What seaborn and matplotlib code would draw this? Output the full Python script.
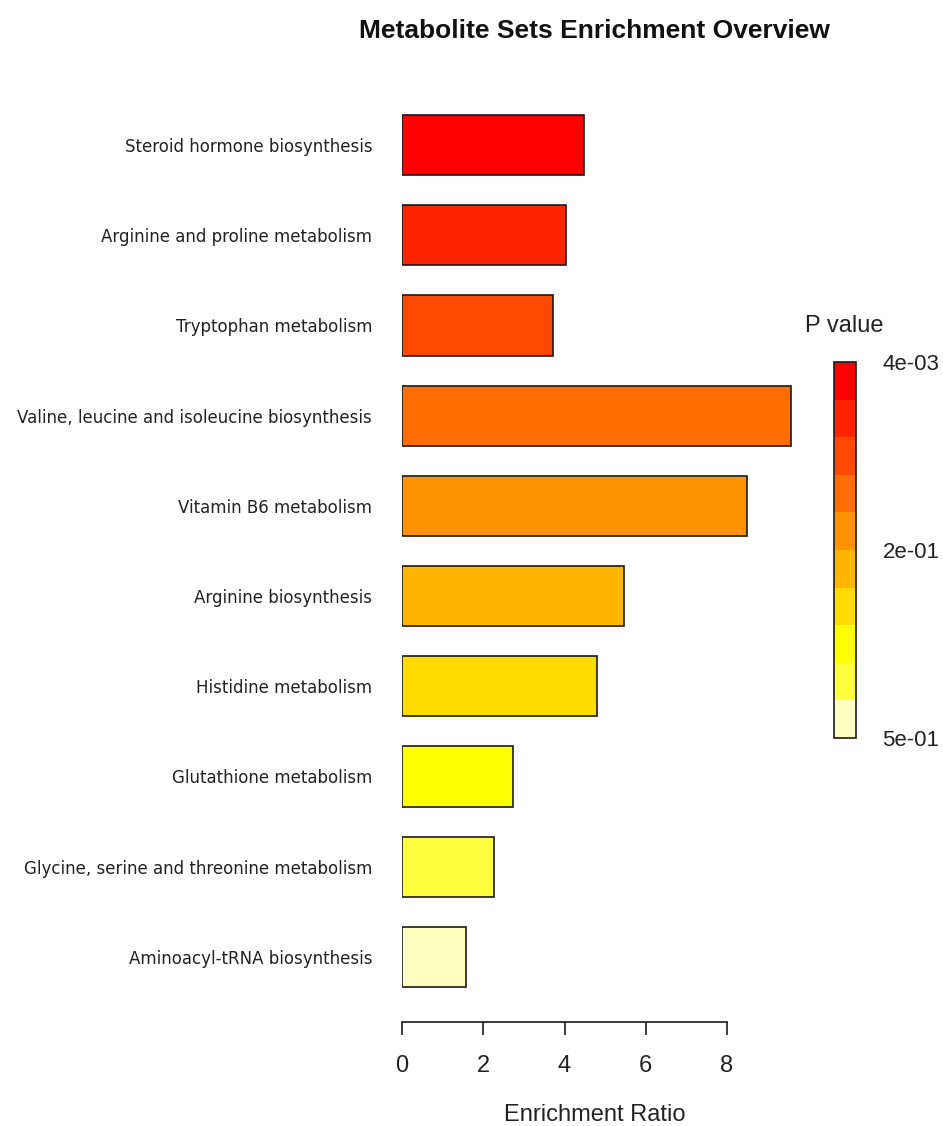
import numpy as np
import pandas as pd
import matplotlib
matplotlib.use("Agg")
import matplotlib.pyplot as plt
from matplotlib.colors import ListedColormap, BoundaryNorm
from matplotlib.cm import ScalarMappable
import seaborn as sns

# Pathway enrichment results
pathways = [
    "Steroid hormone biosynthesis",
    "Arginine and proline metabolism",
    "Tryptophan metabolism",
    "Valine, leucine and isoleucine biosynthesis",
    "Vitamin B6 metabolism",
    "Arginine biosynthesis",
    "Histidine metabolism",
    "Glutathione metabolism",
    "Glycine, serine and threonine metabolism",
    "Aminoacyl-tRNA biosynthesis",
]
enrichment_ratio = [4.48, 4.04, 3.72, 9.58, 8.49, 5.46, 4.80, 2.73, 2.26, 1.58]
p_values = [0.0042, 0.018, 0.041, 0.075, 0.16, 0.21, 0.27, 0.33, 0.41, 0.50]
x_ticks = [0, 2, 4, 6, 8]

# heat colour ramp, most significant first
heat_colors = ["#FF0000", "#FF2400", "#FF4900", "#FF6D00", "#FF9200",
               "#FFB600", "#FFDB00", "#FFFF00", "#FFFF40", "#FFFFBF"]

df = pd.DataFrame({"pathway": pathways, "ratio": enrichment_ratio, "p": p_values})
rank = df["p"].rank(method="first").astype(int) - 1
palette = {name: heat_colors[r] for name, r in zip(df["pathway"], rank)}

W, H = 943, 1126
fig = plt.figure(figsize=(W / 100, H / 100), dpi=100)
sns.set_style("white")
plt.rcParams["font.family"] = ["Liberation Sans", "DejaVu Sans"]

px = 40.625  # pixels per ratio unit
x_max = 10.0
ax_left, ax_top, ax_bottom = 402, 100, 1002
ax = fig.add_axes([ax_left / W, 1 - ax_bottom / H, x_max * px / W, (ax_bottom - ax_top) / H])

sns.barplot(data=df, x="ratio", y="pathway", hue="pathway", palette=palette,
            orient="h", width=0.667, edgecolor="#1a1a1a", linewidth=1.2,
            saturation=1, dodge=False, legend=False, ax=ax)

ax.set_xlim(0, x_max)
ax.set_ylim(len(pathways) - 0.5, -0.5)
for s in ["top", "right", "left"]:
    ax.spines[s].set_visible(False)
ax.spines["bottom"].set_position(("outward", 14.4))
ax.spines["bottom"].set_bounds(x_ticks[0], x_ticks[-1])
ax.spines["bottom"].set_linewidth(1.2)
ax.spines["bottom"].set_color("#1a1a1a")
ax.set_xticks(x_ticks)
ax.tick_params(axis="x", bottom=True, direction="out", length=9.5, width=1.2,
               color="#1a1a1a", pad=14.5, labelsize=17, labelcolor="#222222")
ax.tick_params(axis="y", left=False, length=0, pad=21.5)
for lab in ax.get_yticklabels():
    lab.set_fontfamily("DejaVu Sans")
    lab.set_fontsize(12)
    lab.set_color("#222222")
ax.set_xlabel("")
ax.set_ylabel("")

fig.text(595 / W, 1 - 1115 / H, "Enrichment Ratio", ha="center", va="center",
         fontsize=17, color="#222222")
fig.text(594 / W, 1 - 31 / H, "Metabolite Sets Enrichment Overview", ha="center",
         va="center", fontsize=19, fontweight="bold", color="#111111")

# P value colour key
cax = fig.add_axes([834 / W, 1 - 738 / H, 22 / W, 376 / H])
n = len(heat_colors)
cmap = ListedColormap(heat_colors[::-1])
norm = BoundaryNorm(np.arange(n + 1), n)
cb = fig.colorbar(ScalarMappable(norm=norm, cmap=cmap), cax=cax,
                  ticks=[0, n / 2, n])
cb.ax.minorticks_off()
p_sorted = sorted(p_values)
cb.ax.set_yticklabels([f"{max(p_sorted):.0e}", f"{np.median(p_sorted):.0e}",
                       f"{min(p_sorted):.0e}"])
cb.ax.tick_params(which="both", length=0, pad=19, labelsize=16, labelcolor="#222222")
cb.outline.set_linewidth(1.2)
cb.outline.set_edgecolor("#1a1a1a")
fig.text(844 / W, 1 - 326 / H, "P value", ha="center", va="center",
         fontsize=17, color="#222222")

fig.savefig("out.png", dpi=100)
